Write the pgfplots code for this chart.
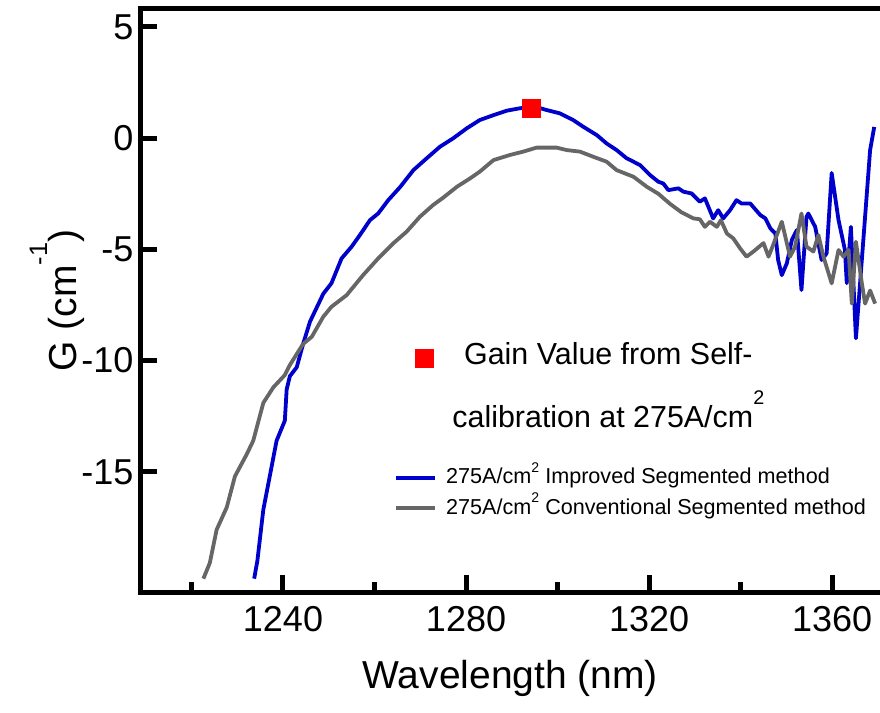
\documentclass[border=0pt]{standalone}
\usepackage{fontspec}
\setmainfont{Liberation Sans}
\usepackage{pgfplots}
\pgfplotsset{compat=1.18}
\definecolor{myblue}{RGB}{0,0,204}
\definecolor{mygray}{RGB}{102,102,102}
\newcommand{\sups}[2][0.6em]{\raisebox{#1}{\scalebox{0.65}{#2}}}

\pgfplotstableread{
x y
1233.7 -19.8
1234.4 -19.0
1235.7 -16.7
1237.2 -15.1
1238.6 -13.6
1240.4 -12.7
1240.8 -11.3
1241.5 -10.7
1243.0 -10.3
1244.4 -9.25
1245.9 -8.25
1248.8 -7.0
1250.6 -6.52
1252.8 -5.41
1255.0 -4.88
1256.8 -4.36
1259.0 -3.69
1260.8 -3.39
1263.0 -2.79
1265.6 -2.2
1268.5 -1.44
1271.4 -0.91
1274.3 -0.39
1277.2 -0.01
1280.1 0.43
1283.0 0.81
1286.0 1.03
1288.9 1.23
1291.8 1.34
1295.1 1.41
1297.6 1.26
1300.5 1.11
1303.4 0.81
1305.6 0.51
1308.6 0.13
1310.7 -0.24
1312.9 -0.54
1315.1 -0.91
1318.0 -1.21
1320.2 -1.66
1322.0 -1.96
1323.1 -2.04
1324.2 -2.34
1326.4 -2.26
1327.5 -2.41
1329.3 -2.49
1331.1 -2.86
1332.2 -2.71
1334.0 -3.61
1335.1 -3.24
1336.2 -3.61
1337.7 -3.24
1339.1 -2.79
1340.2 -2.94
1342.1 -2.94
1344.3 -3.46
1345.4 -3.61
1346.5 -4.06
1347.6 -4.29
1348.2 -5.48
1349.0 -6.16
1350.1 -5.63
1351.2 -4.58
1352.3 -4.13
1353.3 -6.83
1354.4 -3.54
1354.8 -3.39
1356.3 -3.99
1357.7 -5.48
1358.8 -5.18
1359.9 -1.57
1361.4 -3.69
1362.8 -5.03
1363.2 -6.52
1364.1 -3.99
1365.2 -9.0
1368.3 -0.54
1369.2 0.5
}\improved

\pgfplotstableread{
x y
1222.6 -19.8
1224.0 -19.1
1225.5 -17.6
1227.7 -16.6
1229.5 -15.2
1232.1 -14.2
1233.5 -13.6
1235.7 -11.9
1237.9 -11.2
1240.4 -10.65
1241.5 -10.2
1244.4 -9.25
1246.3 -8.93
1248.8 -8.03
1250.6 -7.58
1253.9 -7.06
1257.5 -6.16
1260.8 -5.41
1264.1 -4.73
1267.0 -4.21
1269.9 -3.54
1272.8 -3.01
1275.0 -2.68
1278.0 -2.19
1280.9 -1.81
1283.0 -1.51
1286.0 -0.99
1289.6 -0.76
1292.5 -0.61
1295.4 -0.43
1299.8 -0.43
1302.0 -0.54
1304.9 -0.61
1307.8 -0.84
1310.7 -1.06
1312.9 -1.44
1316.6 -1.74
1319.5 -2.19
1322.0 -2.5
1324.6 -2.96
1327.1 -3.34
1329.7 -3.61
1331.1 -3.65
1332.2 -3.99
1333.3 -3.76
1334.8 -3.99
1335.7 -3.69
1337.0 -4.29
1338.4 -4.51
1339.9 -4.96
1341.3 -5.33
1342.8 -5.10
1345.0 -4.72
1346.1 -5.33
1347.1 -4.81
1349.0 -3.76
1350.8 -5.33
1351.9 -4.88
1353.3 -3.39
1354.4 -4.88
1355.9 -5.10
1357.0 -4.36
1358.1 -5.33
1359.9 -6.53
1361.4 -5.03
1362.5 -5.33
1363.6 -5.03
1364.3 -7.44
1365.2 -4.66
1366.5 -6.53
1367.2 -7.44
1368.3 -6.85
1369.4 -7.44
}\conventional

\begin{document}
\begin{tikzpicture}
\begin{axis}[
  at={(0,0)}, anchor=south west,
  width=369.75pt, height=291.5pt, scale only axis,
  xmin=1208.86, xmax=1370.46, ymin=-20.40, ymax=5.80,
  axis lines=left,
  axis line style={line width=2.5pt, -, line cap=rect},
  xtick={1240,1280,1320,1360}, minor xtick={1220,1260,1300,1340},
  ytick={-15,-10,-5,0,5},
  tick align=inside,
  major tick length=8.5pt, minor tick length=5.2pt,
  every tick/.append style={black, line width=2.5pt},
  tick label style={font=\fontsize{18}{20}\selectfont},
  /pgf/number format/assume math mode=true,
  /pgf/number format/1000 sep={},
  xticklabel style={yshift=-3.5pt},
  every axis x label/.style={at={(axis description cs:0.5,-0.1475)}, anchor=center, font=\fontsize{19.5}{22}\selectfont},
  every axis y label/.style={at={(axis description cs:-0.1129,0.5)}, rotate=90, anchor=center, font=\fontsize{19.5}{22}\selectfont},
  xlabel={Wavelength (nm)},
  ylabel={G (cm\sups[0.75em]{-1})},
  legend style={draw=none, fill=none, at={(axis cs:1264.26,-14.67)}, anchor=north west, inner sep=0pt,
    font=\fontsize{10.8}{12}\selectfont, row sep=2.1pt,
    nodes={inner sep=2pt, text height=0.75em, text depth=0.15em},
    /tikz/every odd column/.append style={column sep=2.5pt}},
  legend cell align=left,
  legend image code/.code={\draw[#1, line width=1.9pt] (0pt,0pt) -- (19.5pt,0pt);},
  extra description/.code={\draw[line width=2.5pt, line cap=rect] (rel axis cs:0,1) -- (rel axis cs:1,1);},
]
\addplot[myblue, line width=1.9pt, line join=round] table[x=x,y=y] {\improved};
\addlegendentry{275A/cm\sups[0.55em]{2} Improved Segmented method}
\addplot[mygray, line width=1.9pt, line join=round] table[x=x,y=y] {\conventional};
\addlegendentry{275A/cm\sups[0.55em]{2} Conventional Segmented method}
\end{axis}
\begin{axis}[
  at={(0,0)}, anchor=south west,
  width=369.75pt, height=291.5pt, scale only axis,
  xmin=1208.86, xmax=1370.46, ymin=-20.40, ymax=5.80,
  hide axis,
  legend style={draw=none, fill=none, at={(axis cs:1267.1,-9.30)}, anchor=north west, inner sep=0pt,
    font=\fontsize{15.2}{17}\selectfont, row sep=18.5pt,
    nodes={inner sep=2pt, text height=0.75em, text depth=0.15em},
    /tikz/every odd column/.append style={column sep=7.5pt}},
  legend cell align=center,
]
\addplot[only marks, mark=square*, mark size=4.5pt, red, mark options={draw=none, fill=red}] coordinates {(1294.2,1.35)};
\addlegendentry{Gain Value from Self-}
\addlegendimage{empty legend}
\addlegendentry{calibration at 275A/cm\sups[0.75em]{2}}
\end{axis}
\pgfresetboundingbox
\path[use as bounding box] (-70.25pt,-60.5pt) rectangle (369.75pt,296pt);
\end{tikzpicture}
\end{document}
